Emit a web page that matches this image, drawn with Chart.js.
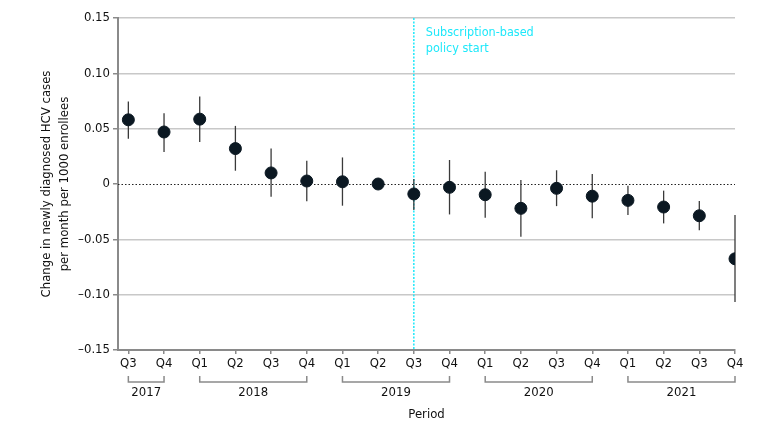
<!DOCTYPE html>
<html>
<head>
<meta charset="utf-8">
<script src="https://cdn.jsdelivr.net/npm/chart.js@4.4.0/dist/chart.umd.min.js"></script>
<style>
  body { margin: 0; background: #fff; }
  #chart { display: block; }
</style>
</head>
<body>
<canvas id="chart" width="780" height="434"></canvas>
<script>
// Datos
const quarters = ['Q3', 'Q4', 'Q1', 'Q2', 'Q3', 'Q4', 'Q1', 'Q2', 'Q3', 'Q4', 'Q1', 'Q2', 'Q3', 'Q4', 'Q1', 'Q2', 'Q3', 'Q4'];
const estimate = [0.058, 0.047, 0.0586, 0.032, 0.010, 0.0027, 0.002, 0, -0.009, -0.003, -0.0097, -0.022, -0.0039, -0.011, -0.0148, -0.0208, -0.0287, -0.0676];
const lower = [0.041, 0.029, 0.038, 0.012, -0.0115, -0.0157, -0.0196, null, -0.0235, -0.0275, -0.0305, -0.0477, -0.020, -0.031, -0.028, -0.0356, -0.0417, -0.1066];
const upper = [0.0745, 0.064, 0.079, 0.0525, 0.032, 0.021, 0.024, null, 0.0045, 0.0217, 0.011, 0.0036, 0.0124, 0.009, -0.0015, -0.006, -0.0154, -0.028];

const yearLabels = ['2017', '2018', '2019', '2020', '2021'];
const yearStart = [0, 2, 6, 10, 14];
const yearEnd = [1, 5, 9, 13, 17];

const policyIndex = 8;
const policyText = ['Subscription-based', 'policy start'];
const yTitle = ['Change in newly diagnosed HCV cases', 'per month per 1000 enrollees'];

const fuente = '"DejaVu Sans Condensed", "DejaVu Sans", sans-serif';
const textColor = '#111111';
const cian = '#1ee8fa';

// Barras de error, linea cero, linea de politica y etiquetas extra
const extras = {
    id: 'extras',
    beforeDatasetsDraw(chart) {
        const { ctx, chartArea, scales: { x, y } } = chart;
        ctx.save();
        // linea en cero
        ctx.strokeStyle = '#222';
        ctx.lineWidth = 1;
        ctx.setLineDash([1.5, 2]);
        ctx.beginPath();
        ctx.moveTo(chartArea.left, Math.round(y.getPixelForValue(0)) + 0.5);
        ctx.lineTo(chartArea.right, Math.round(y.getPixelForValue(0)) + 0.5);
        ctx.stroke();
        // linea de inicio de politica
        ctx.strokeStyle = cian;
        ctx.lineWidth = 1.5;
        ctx.setLineDash([2, 1.5]);
        const px = x.getPixelForValue(policyIndex);
        ctx.beginPath();
        ctx.moveTo(px, chartArea.top);
        ctx.lineTo(px, chartArea.bottom);
        ctx.stroke();
        ctx.setLineDash([]);
        // barras de error
        ctx.strokeStyle = '#3a3a3a';
        ctx.lineWidth = 1.3;
        estimate.forEach((v, i) => {
            if (lower[i] === null) return;
            const bx = x.getPixelForValue(i);
            ctx.beginPath();
            ctx.moveTo(bx, y.getPixelForValue(upper[i]));
            ctx.lineTo(bx, y.getPixelForValue(lower[i]));
            ctx.stroke();
        });
        ctx.restore();
    },
    afterDraw(chart) {
        const { ctx, chartArea, scales: { x, y } } = chart;
        ctx.save();
        // texto de politica
        ctx.fillStyle = cian;
        ctx.font = '12.5px ' + fuente;
        ctx.textAlign = 'left';
        ctx.textBaseline = 'middle';
        const px = x.getPixelForValue(policyIndex);
        policyText.forEach((t, i) => ctx.fillText(t, px + 12, 33 + i * 16));
        // corchetes de anios
        ctx.strokeStyle = '#8a8a8a';
        ctx.lineWidth = 1.5;
        ctx.fillStyle = textColor;
        ctx.font = '13px ' + fuente;
        ctx.textAlign = 'center';
        const by = 382;
        yearLabels.forEach((lab, i) => {
            const x1 = x.getPixelForValue(yearStart[i]);
            const x2 = x.getPixelForValue(yearEnd[i]);
            ctx.beginPath();
            ctx.moveTo(x1, by - 6);
            ctx.lineTo(x1, by);
            ctx.lineTo(x2, by);
            ctx.lineTo(x2, by - 6);
            ctx.stroke();
            ctx.fillText(lab, (x1 + x2) / 2, 393);
        });
        // titulo eje x
        ctx.fillText('Period', (chartArea.left + chartArea.right) / 2, 415);
        // titulo eje y
        ctx.translate(0, (chartArea.top + chartArea.bottom) / 2);
        ctx.rotate(-Math.PI / 2);
        ctx.fillText(yTitle[0], 0, 47);
        ctx.fillText(yTitle[1], 0, 65);
        ctx.restore();
    }
};

new Chart(document.getElementById('chart'), {
    type: 'scatter',
    data: {
        datasets: [
            {
                data: estimate.map((v, i) => ({ x: i, y: v })),
                backgroundColor: '#0b1822',
                borderColor: '#0b1822',
                pointRadius: 6,
                pointHoverRadius: 6
            }
        ]
    },
    options: {
        responsive: false,
        animation: false,
        devicePixelRatio: 1,
        layout: {
            padding: { top: 18, right: 45, left: 0, bottom: 0 }
        },
        plugins: {
            legend: { display: false },
            tooltip: { enabled: false }
        },
        scales: {
            x: {
                type: 'linear',
                min: -0.29,
                max: 17,
                afterFit: (scale) => { scale.height = 84; },
                border: { color: '#8a8a8a', width: 2 },
                grid: {
                    drawOnChartArea: false,
                    drawTicks: true,
                    tickLength: 4,
                    color: '#8a8a8a',
                    lineWidth: 1.5
                },
                ticks: {
                    stepSize: 1,
                    includeBounds: false,
                    autoSkip: false,
                    maxRotation: 0,
                    padding: 2,
                    color: textColor,
                    font: { family: fuente, size: 13 },
                    callback: (v) => quarters[v]
                }
            },
            y: {
                min: -0.15,
                max: 0.15,
                afterFit: (scale) => { scale.width = 118; },
                border: { color: '#8a8a8a', width: 2 },
                grid: {
                    color: (c) => (c.tick && Math.abs(c.tick.value) < 1e-9) ? 'rgba(0,0,0,0)' : '#c8c8c8',
                    tickColor: '#8a8a8a',
                    lineWidth: 1.5,
                    tickLength: 5
                },
                ticks: {
                    stepSize: 0.05,
                    padding: 3,
                    color: textColor,
                    font: { family: fuente, size: 13 },
                    callback: (v) => {
                        if (Math.abs(v) < 1e-9) return '0';
                        return v.toFixed(2).replace('-', '\u2013');
                    }
                }
            }
        }
    },
    plugins: [extras]
});
</script>
</body>
</html>
